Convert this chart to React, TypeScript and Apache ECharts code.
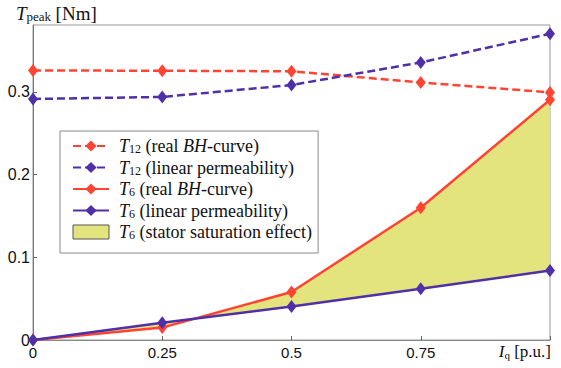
import React, { useEffect, useRef } from "react";
import * as echarts from "echarts";

const xCategories = ["0", "0.25", "0.5", "0.75", "1"];
const xTickLabels = ["0", "0.25", "0.5", "0.75", ""];
const t12Real = [0.326, 0.3257, 0.325, 0.3115, 0.2995];
const t12Linear = [0.2915, 0.294, 0.3084, 0.3357, 0.3704];
const t6Real = [0, 0.015, 0.058, 0.16, 0.2906];
const t6Linear = [0, 0.021, 0.0405, 0.062, 0.084];

const RED = "#ff4433";
const PURPLE = "#5030a8";
const YELLOW = "#e4e47e";
const SERIF = "Liberation Serif";
const SANS = "Liberation Sans";

const names = {
  t12r: "T12 (real BH-curve)",
  t12l: "T12 (linear permeability)",
  t6r: "T6 (real BH-curve)",
  t6l: "T6 (linear permeability)",
  sat: "T6 (stator saturation effect)",
};

const legendRich: Record<string, string> = {
  [names.t12r]: "{i|T}{s|12}{n| (real }{i|BH}{n|-curve)}",
  [names.t12l]: "{i|T}{s|12}{n| (linear permeability)}",
  [names.t6r]: "{i|T}{s|6}{n| (real }{i|BH}{n|-curve)}",
  [names.t6l]: "{i|T}{s|6}{n| (linear permeability)}",
  [names.sat]: "{i|T}{s|6}{n| (stator saturation effect)}",
};

const richStyles = {
  i: { fontFamily: SERIF, fontStyle: "italic", fontWeight: "normal", fontSize: 18, color: "#111", lineHeight: 20, verticalAlign: "middle" },
  n: { fontFamily: SERIF, fontStyle: "normal", fontWeight: "normal", fontSize: 18, color: "#111", lineHeight: 20, verticalAlign: "middle" },
  s: { fontFamily: SERIF, fontStyle: "normal", fontWeight: "normal", fontSize: 12, color: "#111", lineHeight: 20, verticalAlign: "bottom", padding: [0, 0, 1, 0] },
};

export default function App() {
  const ref = useRef<HTMLDivElement>(null);
  useEffect(() => {
    if (!ref.current) return;
    const chart = echarts.init(ref.current, undefined, { renderer: "svg" });
    const diff = t6Real.map((v, i) => v - t6Linear[i]);
    const diamond = [10, 13];
    chart.setOption({
      animation: false,
      backgroundColor: "#fff",
      title: {
        text: "{i|T}{s|peak} {n|[Nm]}",
        left: 16,
        top: 1,
        padding: 0,
        textStyle: {
          fontWeight: "normal",
          fontFamily: SERIF,
          rich: {
            i: { fontFamily: SERIF, fontStyle: "italic", fontWeight: "normal", fontSize: 19, color: "#111", lineHeight: 24, verticalAlign: "middle" },
            n: { fontFamily: SERIF, fontWeight: "normal", fontSize: 19, color: "#111", lineHeight: 24, verticalAlign: "middle" },
            s: { fontFamily: SERIF, fontWeight: "normal", fontSize: 13, color: "#111", lineHeight: 24, verticalAlign: "bottom", padding: [0, 0, 2, 0] },
          },
        },
      },
      grid: {
        left: 33,
        right: 11,
        top: 25,
        bottom: 28,
        show: true,
        borderColor: "#999",
        borderWidth: 1,
        containLabel: false,
      },
      legend: {
        left: 60,
        top: 131,
        orient: "vertical",
        itemWidth: 36,
        itemHeight: 14,
        itemGap: 2.5,
        padding: [6, 6, 11, 12],
        backgroundColor: "#fff",
        borderColor: "#888",
        borderWidth: 1,
        data: [
          { name: names.t12r },
          { name: names.t12l },
          { name: names.t6r },
          { name: names.t6l },
          { name: names.sat, icon: "rect", itemStyle: { color: YELLOW, borderColor: "#555", borderWidth: 1 } },
        ],
        formatter: (name: string) => legendRich[name] || name,
        textStyle: { fontFamily: SERIF, fontSize: 18, padding: [0, 0, 0, 5], rich: richStyles },
      },
      xAxis: {
        type: "category",
        data: xCategories,
        boundaryGap: false,
        axisLine: { show: true, lineStyle: { color: "#888", width: 1 } },
        axisTick: { show: true, inside: true, length: 4, lineStyle: { color: "#666" } },
        splitLine: { show: false },
        axisLabel: {
          margin: 5,
          fontFamily: SANS,
          fontSize: 15,
          color: "#111",
          formatter: (v: string, idx: number) => xTickLabels[idx],
        },
      },
      yAxis: {
        type: "value",
        min: 0,
        max: 0.381,
        interval: 0.1,
        axisLine: { show: true, lineStyle: { color: "#777", width: 1 } },
        axisTick: { show: true, inside: true, length: 4, lineStyle: { color: "#666" } },
        splitLine: { show: false },
        axisLabel: {
          margin: 3,
          fontFamily: SANS,
          fontSize: 16,
          color: "#111",
          showMaxLabel: false,
          formatter: (v: number) => {
            const r = Math.round(v * 10) / 10;
            return Math.abs(v - r) < 1e-6 ? String(r) : "";
          },
        },
      },
      graphic: [
        {
          type: "text",
          right: 10,
          top: 343,
          style: {
            text: "{i|I}{s|q}{n| [p.u.]}",
            rich: {
              i: { fontFamily: SERIF, fontStyle: "italic", fontSize: 17, fill: "#111", lineHeight: 20, verticalAlign: "middle" },
              n: { fontFamily: SERIF, fontSize: 17, fill: "#111", lineHeight: 20, verticalAlign: "middle" },
              s: { fontFamily: SERIF, fontSize: 11, fill: "#111", lineHeight: 20, verticalAlign: "bottom", padding: [0, 0, 1, 0] },
            },
          },
        },
      ],
      series: [
        {
          name: "base",
          type: "line",
          stack: "sat",
          stackStrategy: "all",
          data: t6Linear,
          symbol: "none",
          lineStyle: { width: 0, opacity: 0 },
          silent: true,
          z: 1,
        },
        {
          name: names.sat,
          type: "line",
          stack: "sat",
          stackStrategy: "all",
          data: diff,
          symbol: "none",
          lineStyle: { width: 0, opacity: 0 },
          itemStyle: { color: YELLOW },
          areaStyle: { color: YELLOW, opacity: 1 },
          silent: true,
          z: 1,
        },
        {
          name: names.t12r,
          type: "line",
          data: t12Real,
          symbol: "diamond",
          symbolSize: diamond,
          itemStyle: { color: RED },
          lineStyle: { color: RED, width: 2.5, type: [8, 4] },
          z: 3,
        },
        {
          name: names.t12l,
          type: "line",
          data: t12Linear,
          symbol: "diamond",
          symbolSize: diamond,
          itemStyle: { color: PURPLE },
          lineStyle: { color: PURPLE, width: 2.5, type: [8, 4] },
          z: 4,
        },
        {
          name: names.t6r,
          type: "line",
          data: t6Real,
          symbol: "diamond",
          symbolSize: diamond,
          itemStyle: { color: RED },
          lineStyle: { color: RED, width: 2.5 },
          z: 3,
        },
        {
          name: names.t6l,
          type: "line",
          data: t6Linear,
          symbol: "diamond",
          symbolSize: diamond,
          itemStyle: { color: PURPLE },
          lineStyle: { color: PURPLE, width: 2.5 },
          z: 4,
        },
      ],
    });
    return () => chart.dispose();
  }, []);
  return (
    <div
      ref={ref}
      style={{ position: "fixed", left: 0, top: 0, width: 561, height: 368, background: "#fff" }}
    />
  );
}
